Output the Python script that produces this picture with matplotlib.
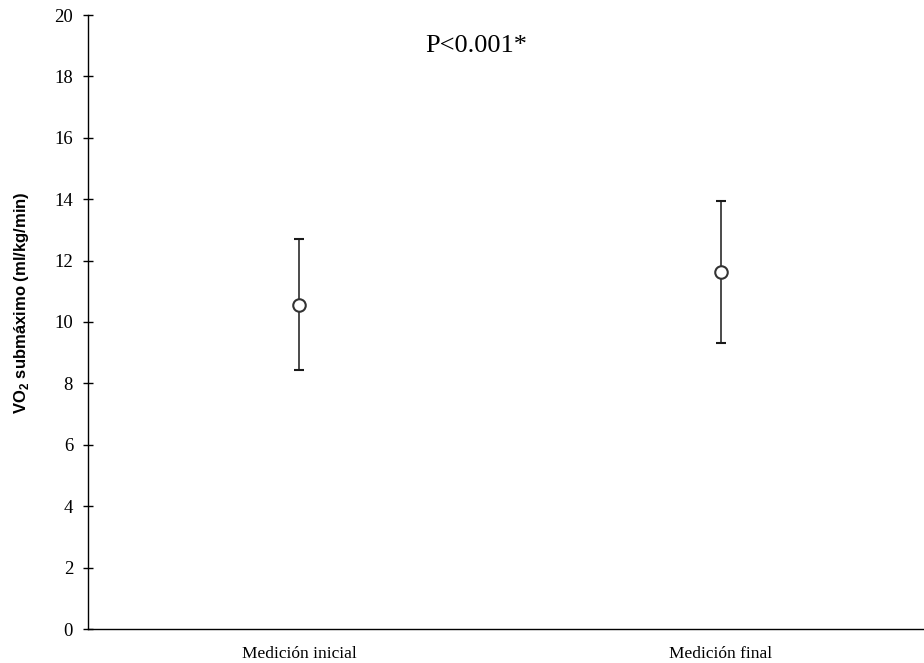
import numpy as np
import matplotlib
matplotlib.use('Agg')
import matplotlib.pyplot as plt

# Data
categories = ['Medición inicial', 'Medición final']
means = [10.57, 11.64]
errors = [2.12, 2.31]
y_ticks = [0, 2, 4, 6, 8, 10, 12, 14, 16, 18, 20]

plt.rcParams['mathtext.fontset'] = 'custom'
plt.rcParams['mathtext.rm'] = 'Liberation Sans'
plt.rcParams['mathtext.bf'] = 'Liberation Sans:bold'

fig = plt.figure(figsize=(9.24, 6.63), dpi=100)
ax = fig.add_axes([88 / 924, 34 / 663, 836 / 924, 614 / 663])

x = np.arange(len(categories)) + 0.5
ax.errorbar(x, means, yerr=errors, fmt='o', color='#1a1a1a', ecolor='#1a1a1a',
            elinewidth=1.1, capsize=3.8, capthick=2.2,
            markersize=9, markerfacecolor='white', markeredgecolor='#333333',
            markeredgewidth=1.5, zorder=3)

ax.set_xlim(0, 1.981)
ax.set_ylim(0, 20)
ax.set_xticks(x)
ax.set_xticklabels(categories, fontfamily='Liberation Serif', fontsize=12.5)
ax.set_yticks(y_ticks)
ax.set_yticklabels([str(t) for t in y_ticks], fontfamily='Liberation Serif', fontsize=13.5)

ax.spines['top'].set_visible(False)
ax.spines['right'].set_visible(False)
ax.spines['left'].set_linewidth(1.0)
ax.spines['bottom'].set_linewidth(1.0)
ax.tick_params(axis='x', length=0, pad=12)
ax.tick_params(axis='y', direction='inout', length=6.5, width=1.0, pad=7.5)

ax.set_ylabel(r'VO$_\mathbf{2}$ submáximo (ml/kg/min)', fontfamily='Liberation Sans',
              fontweight='bold', fontsize=12, va='center')
ax.yaxis.set_label_coords(-0.079, 0.531)

ax.text(0.464, 0.95, 'P<0.001*', transform=ax.transAxes, ha='center', va='center',
        fontfamily='Liberation Serif', fontsize=19)

plt.savefig('out.png', dpi=100)
